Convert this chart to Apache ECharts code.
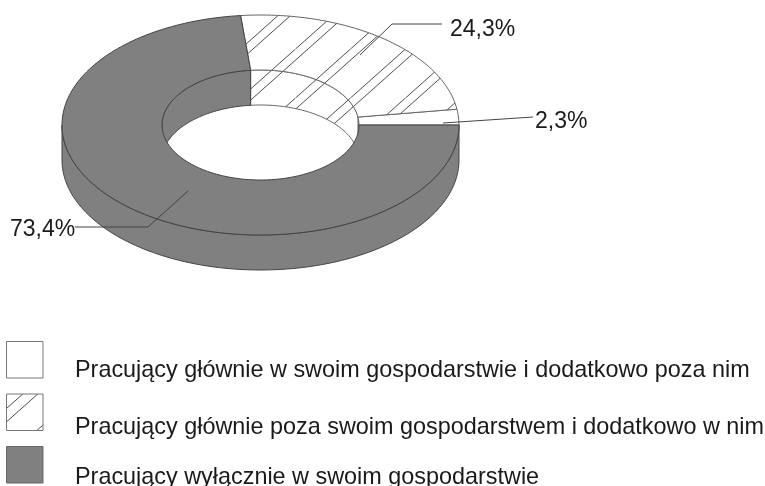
<!DOCTYPE html>
<html><head><meta charset="utf-8">
<style>html,body{margin:0;padding:0;background:#fff}#c{width:765px;height:486px}</style>
<script src="https://cdn.jsdelivr.net/npm/echarts@6/dist/echarts.min.js"></script>
</head><body><div id="c"></div>
<script>
const categories = [
  'Pracujący głównie w swoim gospodarstwie i dodatkowo poza nim',
  'Pracujący głównie poza swoim gospodarstwem i dodatkowo w nim',
  'Pracujący wyłącznie w swoim gospodarstwie'
];
const shares = [2.3, 24.3, 73.4];
const valueLabels = ['2,3%', '24,3%', '73,4%'];

const FONT = '"Liberation Sans", Arial, sans-serif';
const TEXT = '#1a1a1a', GRAY = '#808080';
const cx = 260.5, cy = 125, rxO = 198.5, ryO = 110, rxI = 98.5, ryI = 55, depth = 35;

function hatch(a, b) {
  const w = 55, h = 49, c = document.createElement('canvas');
  c.width = w; c.height = h;
  const g = c.getContext('2d');
  g.fillStyle = '#fff'; g.fillRect(0, 0, w, h);
  g.strokeStyle = '#4d4d4d'; g.lineWidth = 1;
  [a, b].forEach(s => [-w, 0, w].forEach(d => {
    g.beginPath(); g.moveTo(s + d, 0); g.lineTo(s + d - w, h); g.stroke();
  }));
  return { image: c, repeat: 'repeat' };
}
const fills = ['#ffffff', hatch(20.5, 33), GRAY];
const strokes = ['#666', '#666', '#444'];
const legendHatch = hatch(25, 40);

// sector angles, clockwise from the top, ending at 3 o'clock
let end = 90;
const sectors = shares.map(v => { const s = { a0: end - v * 3.6, a1: end }; end = s.a0; return s; });

function pt(t, rx, ry, dy) {
  const r = t * Math.PI / 180;
  return [cx + rx * Math.sin(r), cy + dy - ry * Math.cos(r)];
}
function arc(a, b, rx, ry, dy) {
  const n = Math.max(2, Math.ceil(Math.abs(b - a) / 1.5)), out = [];
  for (let i = 0; i <= n; i++) out.push(pt(a + (b - a) * i / n, rx, ry, dy));
  return out;
}
function clip(s, lo, hi) {
  for (const k of [-360, 0, 360]) {
    const a = Math.max(s.a0 + k, lo), b = Math.min(s.a1 + k, hi);
    if (b > a) return [a, b];
  }
  return null;
}
function layer(build) {
  return {
    type: 'custom', coordinateSystem: 'none', silent: true, animation: false,
    data: shares, clip: false,
    renderItem: (p) => {
      const i = p.dataIndex, pts = build(sectors[i]);
      if (!pts) return { type: 'group', children: [] };
      return { type: 'polygon', shape: { points: pts },
        style: { fill: fills[i], stroke: strokes[i], lineWidth: 1 } };
    }
  };
}
const frontWall = layer(s => {
  const r = clip(s, 90, 270); if (!r) return null;
  return arc(r[0], r[1], rxO, ryO, 0).concat(arc(r[1], r[0], rxO, ryO, depth));
});
const backWall = layer(s => {
  const r = clip(s, -90, 90); if (!r) return null;
  return arc(r[0], r[1], rxI, ryI, 0).concat(arc(r[1], r[0], rxI, ryI, depth));
});
const topFace = layer(s => arc(s.a0, s.a1, rxO, ryO, 0).concat(arc(s.a1, s.a0, rxI, ryI, 0)));

const leaders = [
  [[443, 123], [533, 117]],
  [[360, 55], [392, 24], [442, 24]],
  [[188, 191], [148, 227], [75, 227]]
];
const labelPos = [[535, 121.5], [450, 30], [10, 230]];
const swatchY = [342, 394.5, 447];
const rowY = [370.5, 427.5, 477.5];

const graphic = [];
leaders.forEach((l, i) => {
  graphic.push({ type: 'polyline', silent: true, z: 10, shape: { points: l },
    style: { fill: 'none', stroke: '#444', lineWidth: 1 } });
  graphic.push({ type: 'text', silent: true, z: 10, x: labelPos[i][0], y: labelPos[i][1],
    style: { text: valueLabels[i], fill: TEXT, font: '23px ' + FONT, textVerticalAlign: 'middle', textBaseline: 'middle' } });
});
categories.forEach((c, i) => {
  graphic.push({ type: 'rect', silent: true, z: 10, shape: { x: 6.5, y: swatchY[i] - 0.5, width: 36.5, height: 36.5 },
    style: { fill: i === 1 ? legendHatch : fills[i], stroke: i === 2 ? '#666' : '#777', lineWidth: 1 } });
  graphic.push({ type: 'text', silent: true, z: 10, x: 75, y: rowY[i],
    style: { text: c, fill: TEXT, font: '23.4px ' + FONT, textBaseline: 'middle', textVerticalAlign: 'middle' } });
});

const chart = echarts.init(document.getElementById('c'), null, { renderer: 'canvas' });
chart.setOption({
  animation: false,
  backgroundColor: '#fff',
  series: [frontWall, backWall, topFace],
  graphic: graphic
});
</script>
</body></html>
